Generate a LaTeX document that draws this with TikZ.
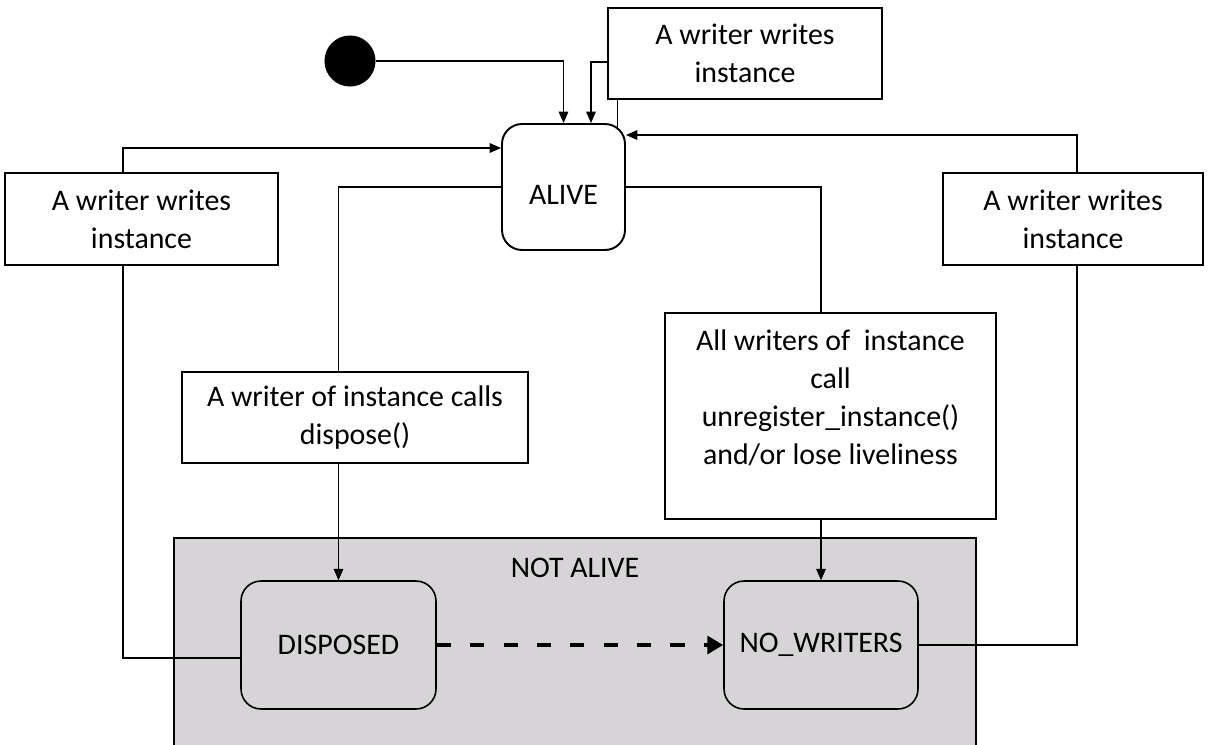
\documentclass[tikz,border=0pt]{standalone}
\usepackage{fontspec}
\setmainfont{Carlito}
\usetikzlibrary{arrows.meta}
\usetikzlibrary{positioning}
\definecolor{notalivegray}{RGB}{214,212,214}

\begin{document}
\begin{tikzpicture}[x=0.02cm, y=-0.02cm, line width=0.6pt,
    >={Triangle[length=6.5pt,width=5.5pt]},
    font=\fontsize{17}{21.5}\selectfont,
    event/.style={draw, rectangle, line width=1pt, align=center, fill=white},
    state/.style={draw, rectangle, rounded corners=0.4cm, line width=0.9pt}]
    \useasboundingbox (0,0) rectangle (1212,744);

    % Not alive region
    \node [draw, line width=1.1pt, fill=notalivegray, minimum width=16.04cm, minimum height=4.24cm] (notalive) at (575,644) {};
    \node (notalivetxt) at (575,568) {NOT ALIVE};

    % States
    \node [draw, circle, fill=black, minimum size=1cm] (init) at (350,61) {};
    \node [state, line width=1.1pt, minimum width=2.46cm, minimum height=2.52cm, text height=20pt, text depth=0pt] (alive) at (563.5,187) {ALIVE};
    \node [state, minimum width=3.9cm, minimum height=2.56cm] (disposed) at (338.5,645) {DISPOSED};
    \node [state, minimum width=3.88cm, minimum height=2.56cm] (nowriters) at (821,645) {NO\_WRITERS};

    % Events
    \node [event, minimum width=5.48cm, minimum height=1.82cm] (topw) at (745,53.5) {A writer writes\\instance};
    \node [event, minimum width=5.46cm, minimum height=1.84cm] (leftw) at (141.5,219) {A writer writes\\instance};
    \node [event, minimum width=5.2cm, minimum height=1.84cm] (rightw) at (1073,219) {A writer writes\\instance};
    \node [event, minimum width=6.92cm, minimum height=1.82cm] (dispw) at (355,417.5) {A writer of instance calls\\dispose()};
    \node [event, minimum width=6.62cm, minimum height=4.12cm] (allw) at (830.5,416) {All writers of~ instance\\call\\unregister\_instance()\\and/or lose liveliness\\\mbox{}};

    % Connections (Arrows)
    \draw [->] (init) -| (alive); % initial state
    \draw [->] ([yshift=-0.17cm]topw.west) -| ([xshift=0.55cm]alive.north);
    \draw ([xshift=-2.56cm]topw.south) -- ++(0,29);
    \draw [->] ([xshift=-0.37cm]leftw.north) |- ([yshift=0.78cm]alive.west);
    \draw ([yshift=-0.26cm]disposed.west) -| ([xshift=-0.37cm]leftw.south);
    \draw [->] ([xshift=0.08cm]rightw.north) |- ([yshift=1.04cm]alive.east);
    \draw (nowriters.east) -| ([xshift=0.08cm]rightw.south);
    \draw (alive.west) -| (disposed.north |- dispw.north); % dispose
    \draw [->] (disposed.north |- dispw.south) -- (disposed.north);
    \draw (alive.east) -| (nowriters.north |- allw.north); % no writers
    \draw [->] (nowriters.north |- allw.south) -- (nowriters.north);

    % DISPOSED to NO_WRITERS
    \draw [-{Triangle[length=9pt,width=10pt]}, line width=2.8pt, dash pattern=on 8pt off 11pt] (disposed) -- (nowriters);

\end{tikzpicture}
\end{document}
